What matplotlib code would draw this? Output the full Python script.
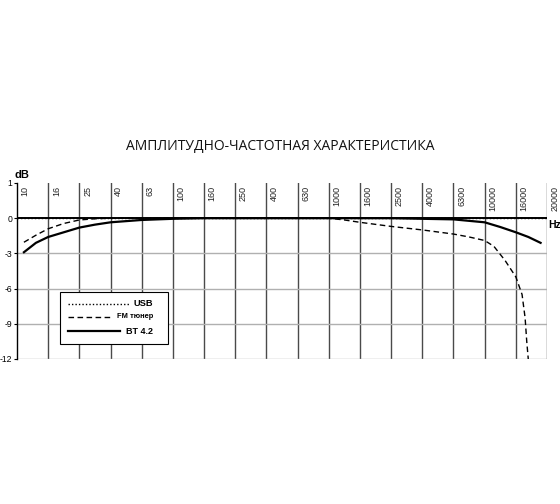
import matplotlib
matplotlib.use("Agg")
import matplotlib.pyplot as plt
from matplotlib.patches import Rectangle
from matplotlib.lines import Line2D
import numpy as np

plt.rcParams["font.family"] = ["Liberation Sans", "DejaVu Sans"]

# column labels of the chart (equally spaced columns)
freq_ticks = [10, 16, 25, 40, 63, 100, 160, 250, 400, 630, 1000, 1600,
              2500, 4000, 6300, 10000, 16000, 20000]
db_ticks = [1, 0, -3, -6, -9, -12]

# USB: flat
usb_hz = [10, 20000]
usb_db = [0, 0]

# FM tuner
fm_hz = [11.1, 13.3, 16, 20, 25, 31.6, 40, 100, 1000, 1265, 1600, 2500, 4000,
         6300, 7940, 10000, 11500, 13600, 16000, 16730, 17100, 17300, 17490]
fm_db = [-2.05, -1.45, -0.9, -0.45, -0.15, -0.05, 0, 0, 0, -0.15, -0.35, -0.7,
         -1.0, -1.35, -1.6, -1.9, -2.4, -3.6, -5.0, -6.5, -8.5, -10.5, -12]

# BT 4.2
bt_hz = [11.1, 13.3, 16, 20, 25, 31.6, 40, 63, 100, 160, 2500, 4000, 6300,
         10000, 12650, 16000, 17500, 19100]
bt_db = [-2.9, -2.1, -1.6, -1.2, -0.8, -0.55, -0.35, -0.15, -0.05, 0, 0,
         -0.05, -0.1, -0.35, -0.75, -1.2, -1.6, -2.1]

series_names = ["USB", "FM тюнер", "BT 4.2"]


def xpos(hz):
    return np.interp(np.log10(hz), np.log10(freq_ticks), np.arange(len(freq_ticks)))


def ypos(db):
    db = np.asarray(db, dtype=float)
    return np.where(db >= 0, db, db / 3.0)


W, H = 560, 504
fig = plt.figure(figsize=(W / 100, H / 100), dpi=100)
ax = fig.add_axes([17 / W, 1 - 359 / H, 530 / W, 176 / H])

ax.set_xlim(0, len(freq_ticks) - 1)
ax.set_ylim(ypos(-12), 1)

for i in range(1, len(freq_ticks)):
    ax.axvline(i, color="#4a4a4a", lw=1.0, zorder=1)
for d in db_ticks[2:]:
    ax.axhline(ypos(d), color="#b0b0b0", lw=1.0, zorder=1)
ax.axhline(0, color="black", lw=1.4, zorder=2)

for s in ["top", "right", "bottom"]:
    ax.spines[s].set_visible(False)
ax.spines["left"].set_color("black")
ax.spines["left"].set_linewidth(1.0)

ax.set_xticks([])
ax.set_yticks(ypos(db_ticks))
ax.set_yticklabels([str(d) for d in db_ticks], fontsize=6.2)
ax.tick_params(axis="y", length=2.5, pad=1)

trans = ax.get_xaxis_transform()
for i, f in enumerate(freq_ticks):
    ax.text(i + 0.12, 0.985, str(f), transform=trans, rotation=90,
            ha="left", va="top", fontsize=6.5, color="#222222")

styles = [dict(lw=1.0, ls=(0, (1, 1.5))),
          dict(lw=1.0, ls=(0, (4, 2.5))),
          dict(lw=1.6, ls="-")]
ax.plot(xpos(usb_hz), ypos(usb_db), color="black", zorder=3, **styles[0])
ax.plot(xpos(fm_hz), ypos(fm_db), color="black", zorder=3, **styles[1])
ax.plot(xpos(bt_hz), ypos(bt_db), color="black", zorder=4, **styles[2])

# legend box with right-aligned labels
fig.patches.append(Rectangle((60 / W, 1 - 344 / H), 108 / W, 52 / H,
                             transform=fig.transFigure, facecolor="white",
                             edgecolor="black", lw=0.8, zorder=5))
row_y = [304, 317, 331]
line_end = [129, 111, 120]
sizes = [6.7, 5.4, 6.5]
for k in range(3):
    y = 1 - row_y[k] / H
    fig.lines.append(Line2D([68 / W, line_end[k] / W], [y, y], color="black",
                            transform=fig.transFigure, zorder=6, **styles[k]))
    fig.text(153 / W, y, series_names[k], fontsize=sizes[k], fontweight="bold",
             ha="right", va="center", zorder=6)

fig.text(22 / W, 1 - 175 / H, "dB", fontsize=8, fontweight="bold",
         ha="center", va="center")
fig.text(548 / W, 1 - 225 / H, "Hz", fontsize=7.5, fontweight="bold",
         ha="left", va="center")
fig.text(0.5, 1 - 146 / H, "АМПЛИТУДНО-ЧАСТОТНАЯ ХАРАКТЕРИСТИКА",
         family="Open Sans", fontsize=10, ha="center", va="center", color="#111111")

fig.savefig("out.png", dpi=100)
